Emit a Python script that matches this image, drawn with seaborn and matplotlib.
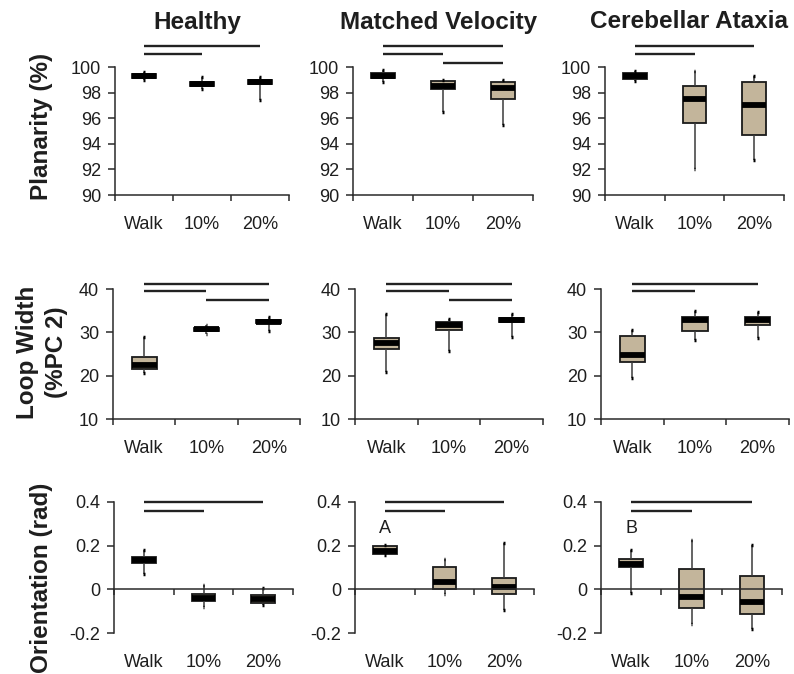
import numpy as np
import pandas as pd
import matplotlib
matplotlib.use("Agg")
import matplotlib.pyplot as plt
import matplotlib.transforms as mtransforms
import seaborn as sns

# ---------------------------------------------------------------------------
# Data: five-number summaries (min, Q1, median, Q3, max) per condition
# ---------------------------------------------------------------------------
conditions = ["Walk", "10%", "20%"]
groups = ["Healthy", "Matched Velocity", "Cerebellar Ataxia"]

planarity_healthy = [[99.0, 99.15, 99.3, 99.45, 99.6],
                     [98.3, 98.55, 98.7, 98.85, 99.2],
                     [97.4, 98.7, 98.85, 99.0, 99.2]]
planarity_matched = [[98.85, 99.15, 99.3, 99.5, 99.8],
                     [96.5, 98.25, 98.55, 98.9, 99.0],
                     [95.5, 97.5, 98.35, 98.8, 99.0]]
planarity_ataxia = [[98.9, 99.05, 99.3, 99.5, 99.65],
                    [92.05, 95.6, 97.5, 98.5, 99.65],
                    [92.7, 94.65, 97.05, 98.8, 99.3]]

loop_healthy = [[20.6, 21.5, 22.4, 24.3, 29.0],
                [29.7, 30.4, 30.7, 31.1, 31.7],
                [30.4, 32.1, 32.4, 32.8, 33.5]]
loop_matched = [[20.75, 26.2, 27.5, 28.7, 34.3],
                [25.6, 30.5, 31.8, 32.4, 33.1],
                [28.9, 32.4, 32.9, 33.4, 34.3]]
loop_ataxia = [[19.4, 23.2, 24.7, 29.2, 30.5],
               [28.3, 30.2, 32.8, 33.5, 34.9],
               [28.6, 31.8, 32.9, 33.5, 34.6]]

orient_healthy = [[0.068, 0.121, 0.135, 0.147, 0.182],
                  [-0.08, -0.053, -0.038, -0.02, 0.02],
                  [-0.073, -0.064, -0.045, -0.027, 0.008]]
orient_matched = [[0.157, 0.16, 0.177, 0.197, 0.205],
                  [-0.02, 0.0, 0.034, 0.102, 0.138],
                  [-0.095, -0.02, 0.01, 0.05, 0.212]]
orient_ataxia = [[-0.015, 0.103, 0.115, 0.137, 0.182],
                 [-0.16, -0.084, -0.035, 0.091, 0.225],
                 [-0.18, -0.112, -0.059, 0.061, 0.202]]

metrics = ["Planarity (%)", "Loop Width\n(%PC 2)", "Orientation (rad)"]
summaries = [
    [planarity_healthy, planarity_matched, planarity_ataxia],
    [loop_healthy, loop_matched, loop_ataxia],
    [orient_healthy, orient_matched, orient_ataxia],
]

# significant pairwise comparisons (condition index pairs) per panel
sig_pairs = [
    [[(0, 2), (0, 1)], [(0, 2), (0, 1), (1, 2)], [(0, 2), (0, 1)]],
    [[(0, 2), (0, 1), (1, 2)], [(0, 2), (0, 1), (1, 2)], [(0, 2), (0, 1)]],
    [[(0, 2), (0, 1)], [(0, 2), (0, 1)], [(0, 2), (0, 1)]],
]
panel_letters = {(2, 1): "A", (2, 2): "B"}

# axis scales
ylims = [(90, 100), (10, 40), (-0.2, 0.4)]
yticks = [[90, 92, 94, 96, 98, 100], [10, 20, 30, 40], [-0.2, 0.0, 0.2, 0.4]]
ytick_labels = [[str(v) for v in yticks[0]], [str(v) for v in yticks[1]],
                ["-0.2", "0", "0.2", "0.4"]]

# long-form table built from the summaries
rows = []
for r, metric in enumerate(metrics):
    for c, grp in enumerate(groups):
        for k, cond in enumerate(conditions):
            for v in summaries[r][c][k]:
                rows.append({"metric": r, "group": grp, "condition": cond, "value": v})
df = pd.DataFrame(rows)

# ---------------------------------------------------------------------------
# Layout (pixel geometry of each panel)
# ---------------------------------------------------------------------------
W, H = 794, 674
row_px = [(67, 195), (289, 419), (502, 633)]
col_px = [[(115, 289), (353, 533), (605, 784)],
          [(113, 300), (355, 543), (601, 789)],
          [(114, 293), (355, 534), (601, 782)]]
sig_levels = [[101.65, 101.0, 100.35], [41.2, 39.5, 37.5], [0.40, 0.36]]

BOX_FILL = "#C3B59B"
INK = "#1e1e1e"
TICK_FS = 13

sns.set_style("ticks")
plt.rcParams["font.family"] = ["Liberation Sans", "DejaVu Sans"]
plt.rcParams["axes.edgecolor"] = "#2a2a2a"
plt.rcParams["axes.linewidth"] = 1.1

fig = plt.figure(figsize=(W / 100, H / 100), dpi=100)

for r in range(3):
    top, bot = row_px[r]
    for c in range(3):
        left, right = col_px[r][c]
        ax = fig.add_axes([left / W, 1 - bot / H, (right - left) / W, (bot - top) / H])
        sub = df[(df["metric"] == r) & (df["group"] == groups[c])]
        sns.boxplot(
            data=sub, x="condition", y="value", order=conditions,
            color=BOX_FILL, saturation=1, width=0.4, whis=(0, 100),
            linecolor="#1a1a1a", linewidth=1.3, fliersize=0, ax=ax,
            medianprops=dict(color="black", linewidth=4.2, solid_capstyle="butt"),
            whiskerprops=dict(color="#3a3a3a", linewidth=1.1),
            capprops=dict(color="black", linewidth=2.5, solid_capstyle="butt"),
            capwidths=0.03,
        )
        ax.set_xlim(-0.5, 2.5)
        ax.set_ylim(*ylims[r])
        ax.set_yticks(yticks[r])
        ax.set_yticklabels(ytick_labels[r])
        ax.set_xticks([-0.5, 0.5, 1.5, 2.5])
        ax.set_xticklabels([])
        ax.set_xlabel("")
        ax.set_ylabel("")
        ax.tick_params(axis="y", length=5, width=1.1, pad=5, labelsize=TICK_FS,
                       colors="#2a2a2a", labelcolor=INK)
        ax.tick_params(axis="x", length=4, width=1.1, colors="#2a2a2a")
        sns.despine(ax=ax)
        if r == 2:
            ax.spines["bottom"].set_position(("data", 0))

        # condition labels under each panel
        trans = mtransforms.blended_transform_factory(ax.transData, ax.transAxes)
        for k, cond in enumerate(conditions):
            ax.annotate(cond, xy=(k, 0), xycoords=trans, xytext=(0, -21.5),
                        textcoords="offset points", ha="center", va="center",
                        fontsize=TICK_FS, color=INK, annotation_clip=False)

        # significance bars
        for j, (a, b) in enumerate(sig_pairs[r][c]):
            y = sig_levels[r][j]
            ax.plot([a, b], [y, y], color="#222222", linewidth=1.7,
                    clip_on=False, solid_capstyle="butt")

        if (r, c) in panel_letters:
            ax.text(0, 0.28, panel_letters[(r, c)], ha="center", va="center",
                    fontsize=TICK_FS, color=INK)

# column titles
for x_px, grp in zip([197, 439, 689], groups):
    fig.text(x_px / W, 1 - 22 / H, grp, ha="center", va="center",
             fontsize=17.5, fontweight="bold", color=INK)

# row labels
for y_px, metric in zip([126, 352, 578], metrics):
    fig.text(42 / W, 1 - y_px / H, metric, ha="center", va="center",
             rotation=90, fontsize=17.5, fontweight="bold", color=INK,
             linespacing=1.3, multialignment="center")

fig.savefig("out.png", dpi=100)
